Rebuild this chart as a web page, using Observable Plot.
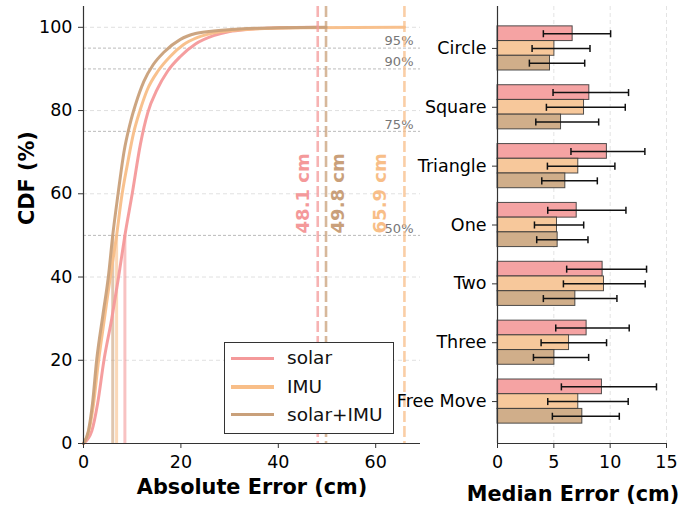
<!DOCTYPE html>
<html>
<head>
<meta charset="utf-8">
<script src="https://cdn.jsdelivr.net/npm/d3@7"></script>
<script src="https://cdn.jsdelivr.net/npm/@observablehq/plot@0.6"></script>
<style>
  html, body { margin: 0; padding: 0; background: white; }
  #wrap { position: relative; width: 694px; height: 506px; font-family: "DejaVu Sans", sans-serif; }
  #wrap svg { position: absolute; left: 0; top: 0; }
  #legend { position: absolute; left: 224px; top: 342px; width: 170px; height: 92px; box-sizing: border-box;
            border: 1.3px solid #333; background: white; }
  #legend .sw { position: absolute; left: 6px; width: 43px; height: 3.5px; }
  #legend .lb { position: absolute; left: 62px; font-size: 18.5px; color: #111; white-space: nowrap; line-height: 20px; }
</style>
</head>
<body>
<div id="wrap"></div>
<script>
// ---------- data ----------
const series = ["solar", "IMU", "solar+IMU"];
const lineColors = ["#F4999A", "#F8BE88", "#C9A07A"];
const barColors = ["#F5A3A3", "#F7C89B", "#D0AE8A"];

// CDF curves (x: absolute error in cm, y: CDF %)
const cdfSolarX = [0, 1.7, 2.9, 4.2, 5.8, 7.2, 8.5, 10.0, 11.7, 13.2, 15.1, 17.3, 19.9, 23, 26.7, 30, 33.6, 40, 48.1];
const cdfSolarY = [0, 3, 9.6, 20, 30, 40, 50, 60, 72, 79.5, 85, 89.5, 93, 96, 98, 99, 99.5, 99.9, 100];
const cdfImuX = [0, 1.1, 2.0, 3.1, 4.3, 5.5, 6.8, 7.8, 9.0, 10.3, 11.6, 13.1, 15.3, 17.8, 20.5, 23.3, 28, 35, 45, 65.9];
const cdfImuY = [0, 3, 9, 20, 30, 40, 50, 59, 67, 74.7, 80, 85, 89.5, 93, 95.8, 97.5, 98.9, 99.6, 99.9, 100];
const cdfFusionX = [0, 1.0, 1.85, 2.7, 4.0, 5.1, 6.0, 7.1, 8.3, 9.6, 10.7, 12.4, 14.3, 16.5, 19.9, 23, 26.7, 32, 40, 49.8];
const cdfFusionY = [0, 3, 9.6, 20, 31, 40, 50, 60, 70, 77, 81.5, 87, 91, 94, 97.1, 98.5, 99.1, 99.6, 99.9, 100];

const medianErrors = [8.5, 6.8, 6.0];     // solar, IMU, solar+IMU
const maxErrors = [48.1, 65.9, 49.8];     // solar, IMU, solar+IMU
const percentiles = [50, 75, 90, 95];
const cdfTicksX = [0, 20, 40, 60];
const cdfTicksY = [0, 20, 40, 60, 80, 100];

// Median error per motion (bars) with error ranges
const categories = ["Circle", "Square", "Triangle", "One", "Two", "Three", "Free Move"];
const medianSolar  = [6.67, 8.15, 9.71, 7.03, 9.33, 7.91, 9.27];
const lowSolar     = [4.07, 4.93, 6.52, 4.46, 6.14, 5.17, 5.67];
const highSolar    = [10.04, 11.63, 13.08, 11.40, 13.23, 11.69, 14.11];
const medianImu    = [5.05, 7.68, 7.17, 5.28, 9.45, 6.35, 7.17];
const lowImu       = [3.07, 4.34, 4.43, 3.28, 5.85, 3.87, 4.46];
const highImu      = [8.21, 11.34, 10.42, 7.65, 13.11, 9.68, 11.60];
const medianFusion = [4.66, 5.64, 6.02, 5.34, 6.91, 5.05, 7.53];
const lowFusion    = [2.83, 3.40, 3.93, 3.48, 4.07, 3.19, 4.87];
const highFusion   = [7.74, 8.98, 8.86, 8.03, 10.60, 8.09, 10.81];
const barTicksX = [0, 5, 10, 15];

// ---------- build tables ----------
const cdfSets = [[cdfSolarX, cdfSolarY], [cdfImuX, cdfImuY], [cdfFusionX, cdfFusionY]]
  .map(([xs, ys]) => xs.map((x, i) => ({x, y: ys[i]})));

const barW = 0.25;
const barSets = [[medianSolar, lowSolar, highSolar], [medianImu, lowImu, highImu], [medianFusion, lowFusion, highFusion]];
const bars = [];
barSets.forEach(([m, lo, hi], k) => {
  categories.forEach((c, i) => {
    bars.push({cat: c, series: series[k], k, value: m[i], lo: lo[i], hi: hi[i], yc: i + (k - 1) * barW});
  });
});

const W = 694, H = 506;
const font = "DejaVu Sans";
const baseStyle = {fontFamily: font, fontSize: "17.5px", background: "transparent", overflow: "visible", color: "#000"};

// ---------- left: CDF ----------
const leftMarks = [
  Plot.ruleY([20, 40, 60, 80, 100], {stroke: "#d8d8d8", strokeDasharray: "4,3", strokeWidth: 0.8}),
  Plot.ruleY(percentiles, {stroke: "#aaa", strokeDasharray: "3,2", strokeWidth: 0.8}),
  Plot.text(percentiles, {y: d => d, text: d => d + "%", frameAnchor: "right", textAnchor: "end", lineAnchor: "middle",
    dx: -7, dy: -7, fill: "#777", fontSize: 13})
];
series.forEach((s, k) => {
  leftMarks.push(Plot.ruleX([medianErrors[k]], {y1: 0, y2: 50, stroke: lineColors[k], strokeOpacity: 0.6, strokeWidth: 3}));
});
series.forEach((s, k) => {
  leftMarks.push(Plot.line(cdfSets[k], {x: "x", y: "y", stroke: lineColors[k], strokeWidth: 3, strokeOpacity: 0.95, curve: "monotone-x"}));
});
const labelDx = [-15, -24, 12];
series.forEach((s, k) => {
  leftMarks.push(Plot.ruleX([maxErrors[k]], {stroke: lineColors[k], strokeOpacity: 0.75, strokeWidth: 2.6, strokeDasharray: "11,4"}));
  leftMarks.push(Plot.text([maxErrors[k]], {x: d => d, y: 50, text: d => d.toFixed(1) + " cm", rotate: -90, textAnchor: "start",
    dx: labelDx[k], dy: -2, fill: lineColors[k], fontWeight: "bold", fontSize: 18}));
});
leftMarks.push(
  Plot.ruleX([0], {stroke: "#333", strokeWidth: 1.2}),
  Plot.ruleY([0], {stroke: "#333", strokeWidth: 1.2}),
  Plot.axisX({ticks: cdfTicksX, tickSize: 5, tickPadding: 7, fontSize: 17.5, label: null, stroke: "#333"}),
  Plot.axisY({ticks: cdfTicksY, tickSize: 5, tickPadding: 6, fontSize: 17.5, label: null, stroke: "#333"}),
  Plot.text(["CDF (%)"], {frameAnchor: "left", rotate: -90, dx: -56, lineAnchor: "middle", fontWeight: "bold", fontSize: 20.8, fill: "#000"}),
  Plot.text(["Absolute Error (cm)"], {frameAnchor: "bottom", lineAnchor: "middle", dy: 43.5, fontWeight: "bold", fontSize: 20.8, fill: "#000"})
);

const left = Plot.plot({
  width: W, height: H,
  marginLeft: 83, marginRight: W - 420, marginTop: 6, marginBottom: H - 443,
  style: baseStyle,
  x: {domain: [0, 69.2]},
  y: {domain: [0, 105]},
  marks: leftMarks
});

// ---------- right: median error bars ----------
const yDomainRight = [-0.7125, 6.7125];
const right = Plot.plot({
  width: W, height: H,
  marginLeft: 497, marginRight: W - 666, marginTop: 6, marginBottom: H - 443,
  style: baseStyle,
  x: {domain: [0, 15]},
  y: {domain: yDomainRight, reverse: true},
  marks: [
    Plot.ruleX([5, 10, 15], {stroke: "#dcdcdc", strokeDasharray: "4,3", strokeWidth: 0.8}),
    Plot.rectX(bars, {x1: 0, x2: "value", y1: d => d.yc - barW / 2, y2: d => d.yc + barW / 2,
      fill: d => barColors[d.k], stroke: "#333", strokeWidth: 1, strokeOpacity: 0.85}),
    Plot.link(bars, {x1: "lo", x2: "hi", y1: "yc", y2: "yc", stroke: "#111", strokeWidth: 1.5}),
    Plot.link(bars, {x1: "lo", x2: "lo", y1: d => d.yc - 0.06, y2: d => d.yc + 0.06, stroke: "#111", strokeWidth: 1.5}),
    Plot.link(bars, {x1: "hi", x2: "hi", y1: d => d.yc - 0.06, y2: d => d.yc + 0.06, stroke: "#111", strokeWidth: 1.5}),
    Plot.ruleX([0], {stroke: "#333", strokeWidth: 1.2}),
    Plot.ruleY([yDomainRight[1]], {stroke: "#333", strokeWidth: 1.2}),
    Plot.axisX({ticks: barTicksX, tickSize: 5, tickPadding: 7, fontSize: 17.5, label: null, stroke: "#333"}),
    Plot.axisY({ticks: d3.range(categories.length), tickFormat: i => categories[i], tickSize: 5, tickPadding: 6,
      fontSize: 17.5, label: null, stroke: "#333"}),
    Plot.text(["Median Error (cm)"], {frameAnchor: "bottom", lineAnchor: "middle", dy: 51, dx: -9, fontWeight: "bold", fontSize: 20.8, fill: "#000"})
  ]
});

// ---------- legend ----------
const legend = document.createElement("div");
legend.id = "legend";
const rowTops = [16.7, 45.5, 73];
series.forEach((s, k) => {
  const sw = document.createElement("div");
  sw.className = "sw";
  sw.style.top = (rowTops[k] - 1.75 - 1.3) + "px";
  sw.style.background = lineColors[k];
  legend.appendChild(sw);
  const lb = document.createElement("div");
  lb.className = "lb";
  lb.style.top = (rowTops[k] - 10 - 1.3) + "px";
  lb.textContent = s;
  legend.appendChild(lb);
});

const wrap = document.getElementById("wrap");
wrap.appendChild(left);
wrap.appendChild(legend);
wrap.appendChild(right);
</script>
</body>
</html>
